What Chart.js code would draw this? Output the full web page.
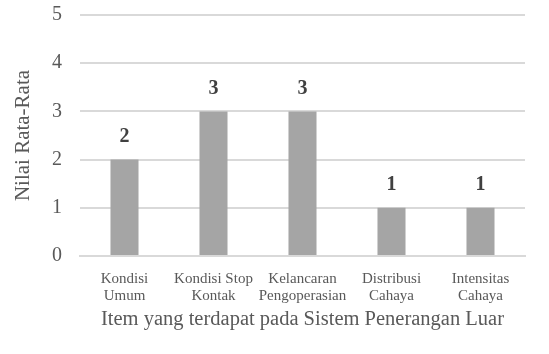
<!DOCTYPE html>
<html>
<head>
<meta charset="utf-8">
<script src="https://cdn.jsdelivr.net/npm/chart.js@4"></script>
<style>
  html, body { margin: 0; padding: 0; background: #fff; }
  #wrap { width: 549px; height: 354px; }
</style>
</head>
<body>
<div id="wrap"><canvas id="chart"></canvas></div>
<script>
const categories = [
  ["Kondisi", "Umum"],
  ["Kondisi Stop", "Kontak"],
  ["Kelancaran", "Pengoperasian"],
  ["Distribusi", "Cahaya"],
  ["Intensitas", "Cahaya"],
];
const values = [2, 3, 3, 1, 1];
const yTicks = [0, 1, 2, 3, 4, 5];

const serif = "'Liberation Serif', 'Times New Roman', serif";

// bold value over each bar
const valueLabels = {
  id: "valueLabels",
  afterDatasetsDraw(chart) {
    const { ctx } = chart;
    const meta = chart.getDatasetMeta(0);
    ctx.save();
    ctx.font = "bold 20px " + serif;
    ctx.fillStyle = "#404040";
    ctx.textAlign = "center";
    ctx.textBaseline = "middle";
    meta.data.forEach((bar, i) => {
      ctx.fillText(String(values[i]), bar.x, bar.y - 23);
    });
    ctx.restore();
  },
};

new Chart(document.getElementById("chart").getContext("2d"), {
  type: "bar",
  data: {
    labels: categories,
    datasets: [
      {
        data: values,
        backgroundColor: "#a5a5a5",
        borderWidth: 0,
        categoryPercentage: 1,
        barPercentage: 0.315,
      },
    ],
  },
  options: {
    responsive: true,
    maintainAspectRatio: false,
    animation: false,
    layout: { padding: { top: 15, right: 24, left: 0, bottom: 0 } },
    plugins: { legend: { display: false }, tooltip: { enabled: false } },
    scales: {
      x: {
        grid: { display: false },
        border: { color: "#d9d9d9", width: 2 },
        ticks: {
          color: "#595959",
          font: { family: serif, size: 15, lineHeight: 1.1 },
          padding: 7,
          maxRotation: 0,
          autoSkip: false,
        },
        title: {
          display: true,
          text: "Item yang terdapat pada Sistem Penerangan Luar",
          color: "#595959",
          font: { family: serif, size: 20.5 },
          padding: { top: 0, bottom: 22 },
        },
        afterFit(scale) {
          scale.height = 98;
        },
      },
      y: {
        min: 0,
        max: 5,
        afterBuildTicks(scale) {
          scale.ticks = yTicks.map((v) => ({ value: v }));
        },
        grid: { color: "#d9d9d9", lineWidth: 2, drawTicks: false },
        border: { display: false },
        ticks: {
          color: "#595959",
          font: { family: serif, size: 20 },
          padding: 18,
        },
        title: {
          display: true,
          text: "Nilai Rata-Rata",
          color: "#595959",
          font: { family: serif, size: 21 },
          padding: { top: 11, bottom: 0 },
        },
        afterFit(scale) {
          scale.width = 80;
          scale.paddingTop = 0;
          scale.paddingBottom = 0;
        },
      },
    },
  },
  plugins: [valueLabels],
});
</script>
</body>
</html>
